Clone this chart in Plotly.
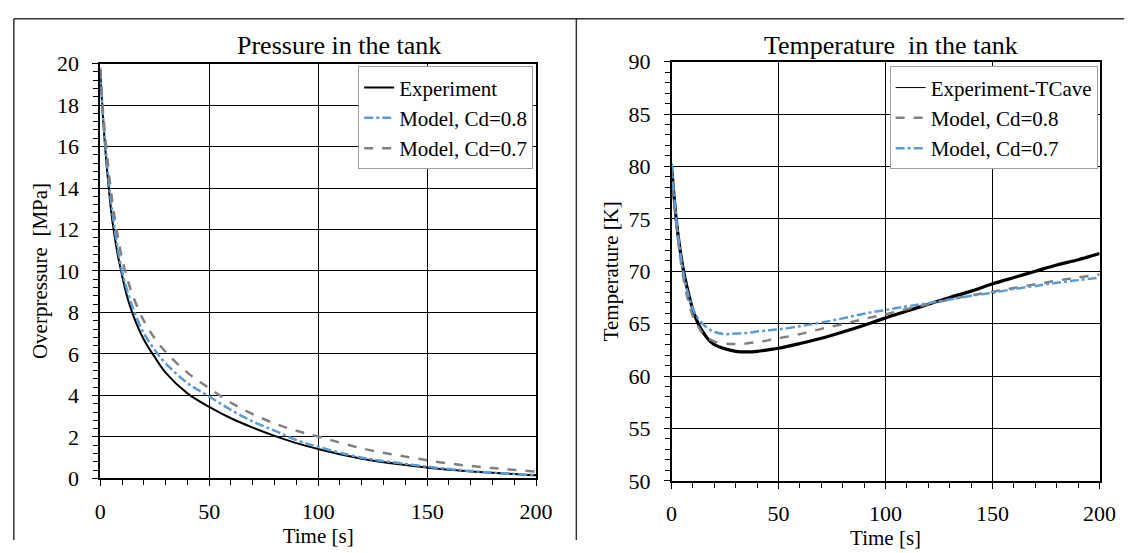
import plotly.graph_objects as go

W, H = 1148, 553

# ---------------- Data ----------------
t_p = [0, 1, 2, 3, 4, 5, 6, 8, 10, 12, 15, 20, 25, 30, 40, 50, 60, 70, 80, 90,
       100, 120, 140, 160, 180, 200]
p_exp = [19.7, 17.8, 16.3, 15.0, 13.9, 12.9, 12.1, 10.8, 9.8, 8.9, 7.9, 6.7, 5.85,
         5.1, 4.1, 3.45, 2.9, 2.45, 2.05, 1.7, 1.42, 0.95, 0.65, 0.42, 0.27, 0.15]
p_cd08 = [19.7, 17.9, 16.5, 15.3, 14.2, 13.3, 12.5, 11.1, 10.0, 9.2, 8.2, 7.0, 6.2,
          5.55, 4.6, 3.95, 3.3, 2.75, 2.3, 1.85, 1.52, 1.0, 0.7, 0.45, 0.28, 0.16]
p_cd07 = [19.8, 18.1, 16.8, 15.7, 14.7, 13.8, 13.0, 11.7, 10.6, 9.8, 8.8, 7.6, 6.75,
          6.1, 5.1, 4.35, 3.65, 3.1, 2.65, 2.3, 2.02, 1.45, 1.05, 0.72, 0.5, 0.33]

t_T = [0, 1, 2, 3, 4, 5, 6, 8, 10, 12, 14, 16, 18, 20, 25, 30, 35, 40, 45, 50,
       60, 70, 80, 90, 100, 110, 120, 130, 140, 150, 160, 170, 180, 190, 200]
T_exp = [80.0, 77.5, 75.3, 73.5, 72.0, 70.7, 69.6, 67.8, 66.3, 65.2, 64.4, 63.8,
         63.3, 63.0, 62.6, 62.35, 62.3, 62.35, 62.5, 62.65, 63.1, 63.6, 64.2, 64.85,
         65.55, 66.2, 66.85, 67.5, 68.1, 68.8, 69.4, 70.0, 70.6, 71.1, 71.7]
T_cd08 = [80.0, 77.2, 75.0, 73.0, 71.4, 70.0, 68.8, 67.0, 65.7, 64.9, 64.2, 63.8,
          63.5, 63.3, 63.1, 63.05, 63.1, 63.25, 63.4, 63.6, 64.0, 64.5, 64.95, 65.45,
          65.9, 66.4, 66.85, 67.3, 67.7, 68.05, 68.4, 68.75, 69.1, 69.4, 69.7]
T_cd07 = [80.3, 77.6, 75.4, 73.5, 71.9, 70.5, 69.3, 67.6, 66.4, 65.6, 65.1, 64.7,
          64.4, 64.2, 64.0, 64.05, 64.1, 64.25, 64.35, 64.45, 64.75, 65.1, 65.5, 65.95,
          66.3, 66.65, 66.95, 67.3, 67.65, 67.95, 68.3, 68.6, 68.9, 69.15, 69.4]

x_ticks = [0, 50, 100, 150, 200]
p_ticks = [0, 2, 4, 6, 8, 10, 12, 14, 16, 18, 20]
T_ticks = [50, 55, 60, 65, 70, 75, 80, 85, 90]

BLUE = "#5B9BD5"
GREY = "#808080"
FONT = "Liberation Serif"
TICK_SIZE = 22
TITLE_SIZE = 21
LEG_SIZE = 21

fig = go.Figure()

# Pressure panel
fig.add_trace(go.Scatter(x=t_p, y=p_exp, mode="lines", name="Experiment",
                         line=dict(color="black", width=2, shape="spline"),
                         xaxis="x", yaxis="y", legend="legend"))
fig.add_trace(go.Scatter(x=t_p, y=p_cd08, mode="lines", name="Model, Cd=0.8",
                         line=dict(color=BLUE, width=2.5, dash="dashdot", shape="spline"),
                         xaxis="x", yaxis="y", legend="legend"))
fig.add_trace(go.Scatter(x=t_p, y=p_cd07, mode="lines", name="Model, Cd=0.7",
                         line=dict(color=GREY, width=2.5, dash="dash", shape="spline"),
                         xaxis="x", yaxis="y", legend="legend"))

# Temperature panel (thick noisy-looking data line; thin line in legend)
fig.add_trace(go.Scatter(x=t_T, y=T_exp, mode="lines", name="Experiment-TCave",
                         line=dict(color="black", width=3.2, shape="spline"),
                         xaxis="x2", yaxis="y2", showlegend=False))
fig.add_trace(go.Scatter(x=[None], y=[None], mode="lines", name="Experiment-TCave",
                         line=dict(color="black", width=1),
                         xaxis="x2", yaxis="y2", legend="legend2"))
fig.add_trace(go.Scatter(x=t_T, y=T_cd08, mode="lines", name="Model, Cd=0.8",
                         line=dict(color=GREY, width=2.5, dash="dash", shape="spline"),
                         xaxis="x2", yaxis="y2", legend="legend2"))
fig.add_trace(go.Scatter(x=t_T, y=T_cd07, mode="lines", name="Model, Cd=0.7",
                         line=dict(color=BLUE, width=2.5, dash="dashdot", shape="spline"),
                         xaxis="x2", yaxis="y2", legend="legend2"))


def px(v):
    return v / W


def py(v):
    return 1 - v / H


def axis_common(**kw):
    d = dict(showline=True, mirror=True, linecolor="black", linewidth=1.5,
             showgrid=True, gridcolor="black", gridwidth=1, zeroline=False,
             ticks="outside", ticklen=6, tickcolor="black", tickwidth=1,
             tickfont=dict(family=FONT, size=TICK_SIZE, color="black"))
    d.update(kw)
    return d


fig.update_layout(
    width=W, height=H,
    margin=dict(l=0, r=0, t=0, b=0),
    paper_bgcolor="white", plot_bgcolor="white",
    font=dict(family=FONT, color="black"),
    showlegend=True,
    xaxis=axis_common(domain=[px(97), px(541)], range=[0, 200], tickvals=x_ticks,
                      anchor="y", ticklabelstandoff=6,
                      minor=dict(dtick=10, tick0=0, ticks="outside", ticklen=5,
                                 tickcolor="black", showgrid=False),
                      title=dict(text="Time [s]", font=dict(family=FONT, size=TITLE_SIZE),
                                 standoff=0)),
    yaxis=axis_common(domain=[py(488.5), py(54)], range=[0, 20], tickvals=p_ticks,
                      anchor="x", ticklabelstandoff=9,
                      minor=dict(dtick=0.4, tick0=0, ticks="outside", ticklen=5,
                                 tickcolor="black", showgrid=False),
                      title=dict(text="Overpressure  [MPa]", font=dict(family=FONT, size=TITLE_SIZE),
                                 standoff=4)),
    xaxis2=axis_common(domain=[px(679), px(1115)], range=[0, 200], tickvals=x_ticks,
                       anchor="y2", ticklabelstandoff=6,
                       minor=dict(dtick=10, tick0=0, ticks="outside", ticklen=5,
                                  tickcolor="black", showgrid=False),
                       title=dict(text="Time [s]", font=dict(family=FONT, size=TITLE_SIZE),
                                  standoff=0)),
    yaxis2=axis_common(domain=[py(491), py(52)], range=[50, 90], tickvals=T_ticks,
                       anchor="x2", ticklabelstandoff=9,
                       minor=dict(dtick=1, tick0=50, ticks="outside", ticklen=5,
                                  tickcolor="black", showgrid=False),
                       title=dict(text="Temperature [K]", font=dict(family=FONT, size=TITLE_SIZE),
                                  standoff=4)),
    legend=dict(x=px(538), y=py(57), xanchor="right", yanchor="top",
                bgcolor="white", bordercolor="#a0a0a0", borderwidth=1,
                font=dict(family=FONT, size=LEG_SIZE, color="black"),
                tracegroupgap=0, itemwidth=30, traceorder="normal"),
    legend2=dict(x=px(1113), y=py(57), xanchor="right", yanchor="top",
                 bgcolor="white", bordercolor="#a0a0a0", borderwidth=1,
                 font=dict(family=FONT, size=LEG_SIZE, color="black"),
                 tracegroupgap=0, itemwidth=30, traceorder="normal"),
    annotations=[
        dict(text="Pressure in the tank", x=px(340), y=py(35), xref="paper", yref="paper",
             showarrow=False, font=dict(family=FONT, size=26, color="black"),
             xanchor="center", yanchor="middle"),
        dict(text="Temperature  in the tank", x=px(902), y=py(35), xref="paper", yref="paper",
             showarrow=False, font=dict(family=FONT, size=26, color="black"),
             xanchor="center", yanchor="middle"),
    ],
    shapes=[
        dict(type="line", xref="paper", yref="paper", x0=px(9), x1=px(1140), y0=py(7), y1=py(7),
             line=dict(color="#333333", width=1.5)),
        dict(type="line", xref="paper", yref="paper", x0=px(9), x1=px(9), y0=py(7), y1=0,
             line=dict(color="#333333", width=1.5)),
        dict(type="line", xref="paper", yref="paper", x0=px(582), x1=px(582), y0=py(7), y1=0,
             line=dict(color="#333333", width=1.5)),
    ],
)

fig.write_html("out.html")
